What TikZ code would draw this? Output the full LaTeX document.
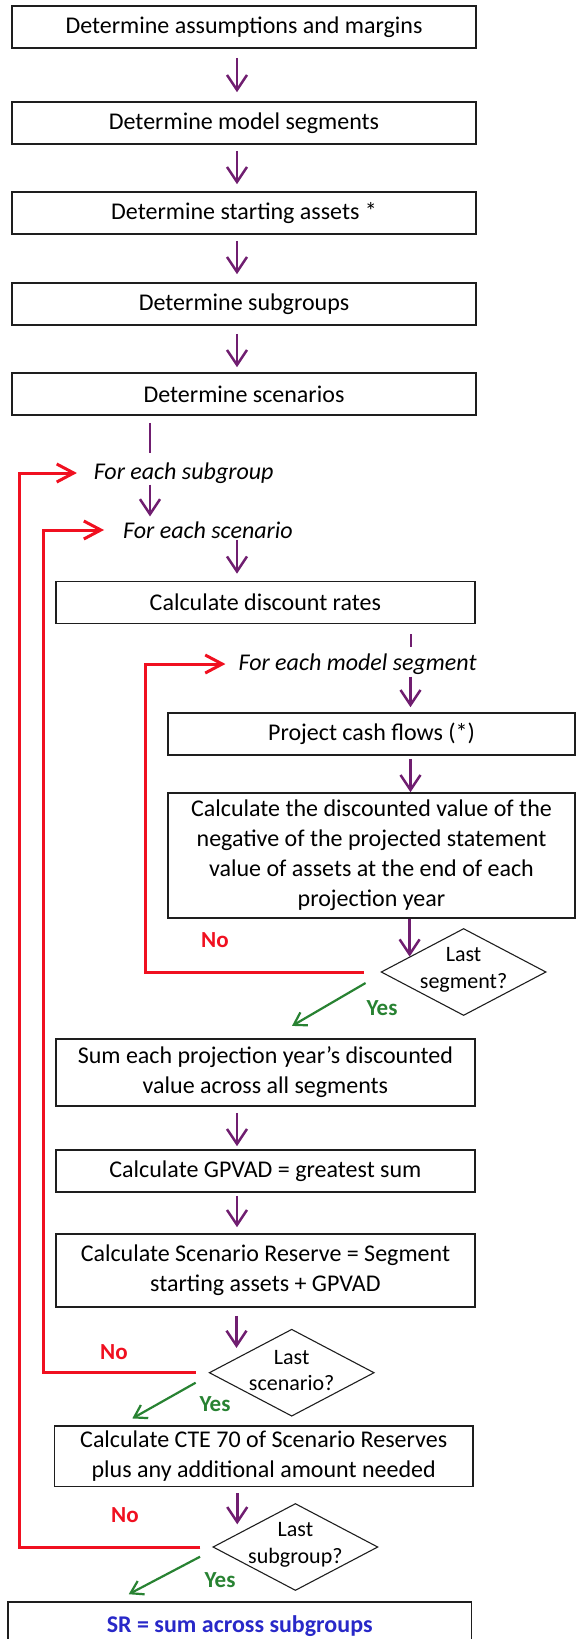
\documentclass[tikz,border=0pt]{standalone}
\usepackage{fontspec}
\setmainfont{Carlito}
\usetikzlibrary{arrows.meta,shapes.geometric,calc}
\definecolor{flowpurple}{RGB}{112,30,112}
\definecolor{loopred}{RGB}{240,16,32}
\definecolor{yesgreen}{RGB}{40,130,50}
\definecolor{srblue}{RGB}{40,40,200}
\definecolor{boxline}{RGB}{30,30,30}

\begin{document}
\begin{tikzpicture}[x=1pt,y=-1pt,
  every node/.style={font=\fontsize{24}{30}\selectfont, inner sep=0pt},
  stepbox/.style={draw=boxline, line width=1.6pt, rectangle, align=center},
  mainbox/.style={stepbox, minimum width=464, minimum height=42},
  subbox/.style={stepbox, minimum width=419},
  segbox/.style={stepbox, minimum width=407},
  decision/.style={draw=boxline, line width=1.1pt, diamond, minimum width=165, minimum height=87},
  dectext/.style={font=\fontsize{22}{26.5}\selectfont, align=center},
  looplabel/.style={font=\fontsize{24}{30}\itshape},
  nolabel/.style={font=\fontsize{23}{28}\bfseries, text=loopred},
  yeslabel/.style={font=\fontsize{23}{28}\bfseries, text=yesgreen},
  flow/.style={draw=flowpurple, line width=2.5pt, -{Straight Barb[length=15pt,width=20pt]}},
  flowline/.style={draw=flowpurple, line width=2.5pt},
  loopback/.style={draw=loopred, line width=3pt, -{Straight Barb[length=17pt,width=18pt]}},
  yesarrow/.style={draw=yesgreen, line width=2.2pt, -{Straight Barb[length=12pt,width=15pt]}}
]
\useasboundingbox (0,0) rectangle (576,1639);
\clip (0,0) rectangle (576,1639);

% arrow columns
\coordinate (colA) at (237,0);
\coordinate (colB) at (150,0);
\coordinate (colC) at (410.5,0);
% loop-back rails
\coordinate (railSub) at (19.5,0);
\coordinate (railScen) at (43.4,0);
\coordinate (railSeg) at (145,0);

% set-up steps
\node[mainbox] (b1) at (244,27)  {Determine assumptions and margins};
\node[mainbox] (b2) at (244,123) {Determine model segments};
\node[mainbox] (b3) at (244,213) {Determine starting assets *};
\node[mainbox] (b4) at (244,304) {Determine subgroups};
\node[mainbox] (b5) at (244,394) {Determine scenarios};

% loop headers
\node[looplabel] (fsg) at (183.7,473) {For each subgroup};
\node[looplabel] (fsc) at (208,530)   {For each scenario};

\node[subbox, minimum height=42] (disc) at (265.4,602.5) {Calculate discount rates};
\node[looplabel] (fms) at (357.6,664) {For each model segment};

% per-segment steps
\node[segbox, minimum height=42]  (proj) at (371.5,734)   {Project cash flows (*)};
\node[segbox, minimum height=125] (big)  at (371.5,855.5) {Calculate the discounted value of the\\negative of the projected statement\\value of assets at the end of each\\projection year};
\node[decision] (d1) at (463.6,972) {};
\node[dectext] (d1t) at (463.6,970) {Last\\segment?};

% per-scenario steps
\node[subbox, minimum height=67] (sum)  at (265.4,1072.5) {Sum each projection year's discounted\\value across all segments};
\node[subbox, minimum height=42] (gp)   at (265.4,1171)   {Calculate GPVAD = greatest sum};
\node[subbox, minimum height=73] (sres) at (265.4,1270.5) {Calculate Scenario Reserve = Segment\\starting assets + GPVAD};
\node[decision] (d2) at (291.7,1372.7) {};
\node[dectext] (d2t) at (291.7,1370.5) {Last\\scenario?};

% per-subgroup steps
\node[stepbox, minimum width=418.6, minimum height=60.7] (cte) at (263.7,1456.3) {Calculate CTE 70 of Scenario Reserves\\plus any additional amount needed};
\node[decision] (d3) at (295.4,1547) {};
\node[dectext] (d3t) at (295.4,1545) {Last\\subgroup?};

\node[stepbox, minimum width=463.3, minimum height=48.6, font=\fontsize{24}{30}\bfseries, text=srblue] (sr) at (239.7,1626) {SR = sum across subgroups};

% answer labels
\node[nolabel]  (no1)  at (215,940)   {No};
\node[yeslabel] (yes1) at (382,1008)  {Yes};
\node[nolabel]  (no2)  at (114,1352)  {No};
\node[yeslabel] (yes2) at (215,1404)  {Yes};
\node[nolabel]  (no3)  at (125,1515)  {No};
\node[yeslabel] (yes3) at (220,1580)  {Yes};

% points where the vertical arrows meet the decision diamonds
\coordinate (d1in) at ($(d1.west)!0.35!(d1.north)$);
\coordinate (d2in) at ($(d2.west)!0.335!(d2.north)$);
\coordinate (d3in) at ($(d3.west)!0.30!(d3.north)$);

% main flow
\draw[flow, shorten <=9pt, shorten >=9pt] (b1.south -| colA) -- (b2.north -| colA);
\draw[flow, shorten <=6pt, shorten >=7pt] (b2.south -| colA) -- (b3.north -| colA);
\draw[flow, shorten <=6pt, shorten >=8pt] (b3.south -| colA) -- (b4.north -| colA);
\draw[flow, shorten <=8pt, shorten >=5pt] (b4.south -| colA) -- (b5.north -| colA);
\draw[flowline, shorten <=7pt, shorten >=9pt] (b5.south -| colB) -- (fsg.north -| colB);
\draw[flow, shorten <=1pt, shorten >=5pt] (fsg.south -| colB) -- (fsc.north -| colB);
\draw[flow, shorten <=1pt, shorten >=7pt] (fsc.south -| colA) -- (disc.north -| colA);
\draw[flowline, line width=2pt, shorten <=10pt, shorten >=6pt] (disc.south -| colC) -- (fms.north -| colC);
\draw[flow, shorten <=2pt, shorten >=5pt] (fms.south -| colC) -- (proj.north -| colC);
\draw[flow, shorten <=3pt] (proj.south -| colC) -- (big.north -| colC);
\draw[flow] (big.south -| d1in) -- (d1in);
\draw[flow, shorten <=6pt, shorten >=3pt] (sum.south -| colA) -- (gp.north -| colA);
\draw[flow, shorten <=3pt, shorten >=6pt] (gp.south -| colA) -- (sres.north -| colA);
\draw[flow, shorten <=8pt, shorten >=10pt] (sres.south -| d2in) -- (d2in);
\draw[flow, shorten <=6pt, shorten >=9.5pt] (cte.south -| d3in) -- (d3in);

% yes branches
\draw[yesarrow] ([shift={(-15,11)}]d1.west) -- ([shift={(26.6,-12.3)}]sum.north);
\draw[yesarrow] ([shift={(-13,10)}]d2.west) -- ([shift={(-131.4,-6.7)}]cte.north);
\draw[yesarrow] ([shift={(-12.3,9.7)}]d3.west) -- ([shift={(-111,-6.7)}]sr.north);

% no branches loop back
\draw[loopback, shorten <=17pt, shorten >=13pt] (d1.west) -| (railSeg |- fms.west) -- (fms.west);
\draw[loopback, shorten <=13pt, shorten >=19pt] (d2.west) -| (railScen |- fsc.west) -- (fsc.west);
\draw[loopback, shorten <=12pt, shorten >=16.7pt] (d3.west) -| (railSub |- fsg.west) -- (fsg.west);
\end{tikzpicture}
\end{document}
